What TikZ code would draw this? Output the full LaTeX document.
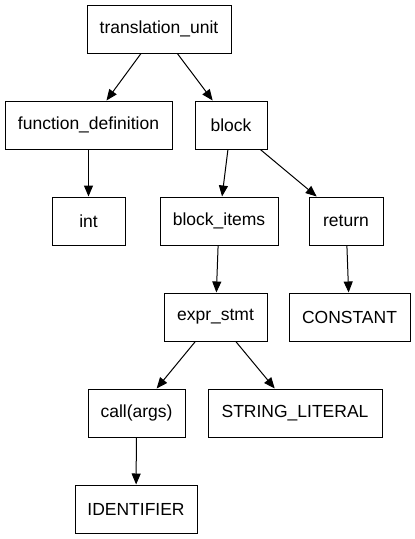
\documentclass[tikz,border=0pt]{standalone}
\usepackage{fontspec}
\setmainfont{Liberation Sans}
\usetikzlibrary{arrows.meta}
\tikzset{
  astnode/.style={draw, line width=1pt, rectangle, minimum height=48pt, minimum width=#1,
    inner xsep=2pt, font=\fontsize{17.5}{20}\selectfont},
  astnode/.default=72pt,
  astedge/.style={line width=1pt, -{Triangle[length=11pt, width=9pt]}}
}
\begin{document}
\begin{tikzpicture}[x=1pt, y=-1pt]
    \useasboundingbox (0,0) rectangle (415,539);
    % Raiz
    \node[astnode=144pt] (tu) at (159,29) {translation\_unit};
    % Primer nivel
    \node[astnode=167pt] (fdef) at (88.5,125) {function\_definition};
    \node[astnode=72pt] (blk) at (231,125) {block};
    % Segundo nivel
    \node[astnode=73pt] (int) at (88.5,221) {int};
    \node[astnode=118pt] (items) at (219,221) {block\_items};
    \node[astnode=74pt] (ret) at (346,221) {return};
    % Tercer nivel
    \node[astnode=103pt] (expr) at (215.5,317) {expr\_stmt};
    \node[astnode=121pt] (const) at (349.5,317) {CONSTANT};
    % Cuarto nivel
    \node[astnode=97pt] (call) at (136.5,413) {call(args)};
    \node[astnode=174pt] (str) at (295,413) {STRING\_LITERAL};
    % Quinto nivel
    \node[astnode=122pt] (ident) at (136,509) {IDENTIFIER};
    % Aristas
    \draw[astedge] (tu) -- (fdef);
    \draw[astedge] (tu) -- (blk);
    \draw[astedge] (fdef) -- (int);
    \draw[astedge] (blk) -- (items);
    \draw[astedge] (blk) -- (ret);
    \draw[astedge] (items) -- (expr);
    \draw[astedge] (ret) -- (const);
    \draw[astedge] (expr) -- (call);
    \draw[astedge] (expr) -- (str);
    \draw[astedge] (call) -- (ident);
\end{tikzpicture}
\end{document}
